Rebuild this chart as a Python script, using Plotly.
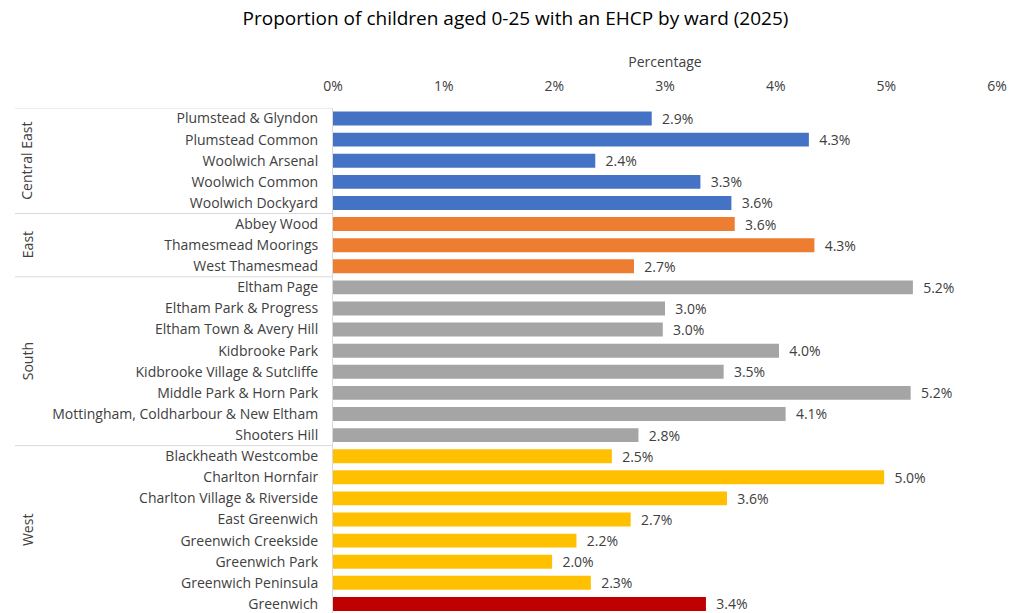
import plotly.graph_objects as go

wards = [
    "Plumstead & Glyndon", "Plumstead Common", "Woolwich Arsenal", "Woolwich Common", "Woolwich Dockyard",
    "Abbey Wood", "Thamesmead Moorings", "West Thamesmead",
    "Eltham Page", "Eltham Park & Progress", "Eltham Town & Avery Hill", "Kidbrooke Park",
    "Kidbrooke Village & Sutcliffe", "Middle Park & Horn Park", "Mottingham, Coldharbour & New Eltham", "Shooters Hill",
    "Blackheath Westcombe", "Charlton Hornfair", "Charlton Village & Riverside", "East Greenwich",
    "Greenwich Creekside", "Greenwich Park", "Greenwich Peninsula", "Greenwich",
]
values = [
    2.88, 4.30, 2.37, 3.32, 3.60,
    3.63, 4.35, 2.72,
    5.24, 3.00, 2.98, 4.03, 3.53, 5.22, 4.09, 2.76,
    2.52, 4.98, 3.56, 2.69, 2.20, 1.98, 2.33, 3.37,
]
groups = (["Central East"] * 5 + ["East"] * 3 + ["South"] * 8 + ["West"] * 7 + ["Greenwich"])
group_names = ["Central East", "East", "South", "West"]
group_colors = {"Central East": "#4472C4", "East": "#ED7D31", "South": "#A5A5A5",
                "West": "#FFC000", "Greenwich": "#C00000"}
x_ticks = [0, 1, 2, 3, 4, 5, 6]

FONT = "Open Sans"
TXT = "#404040"

fig = go.Figure(go.Bar(
    x=values, y=wards, orientation="h",
    marker=dict(color=[group_colors[g] for g in groups], line=dict(width=0)),
    width=0.66,
    text=[f"\u00a0\u00a0{v:.1f}%" for v in values],
    textposition="outside", cliponaxis=False, constraintext="none",
    textfont=dict(family=FONT, size=14, color=TXT),
))

W, H = 1031, 613
L, R, T = 333, 34, 107.5
fig.update_layout(
    width=W, height=H,
    margin=dict(l=L, r=R, t=T, b=0, autoexpand=False),
    paper_bgcolor="white", plot_bgcolor="white",
    showlegend=False,
    title=dict(text="Proportion of children aged 0-25 with an EHCP by ward (2025)",
               x=0.5, xref="container", xanchor="center", y=1 - 18 / H, yanchor="middle",
               font=dict(family=FONT, size=19, color="#000000")),
    font=dict(family=FONT, color=TXT, size=14),
)
fig.update_xaxes(
    side="top", range=[0, 6], tickvals=x_ticks, ticktext=[f"{t}%" for t in x_ticks],
    showgrid=False, zeroline=False, showline=False, ticks="", automargin=False,
    ticklabelstandoff=13,
    tickfont=dict(family=FONT, size=14, color=TXT),
    title=dict(text="Percentage", font=dict(family=FONT, size=14, color=TXT), standoff=5),
)
n = len(wards)
fig.update_yaxes(
    categoryorder="array", categoryarray=wards,
    range=[n - 0.57, -0.5],
    showgrid=False, zeroline=False, showline=True, linecolor="#D9D9D9", linewidth=1,
    ticks="", ticklabelstandoff=11, automargin=False,
    tickfont=dict(family=FONT, size=14, color=TXT),
)

# group separators and labels
pw = W - L - R
x_left = (15 - L) / pw
idx = 0
spans = []
for g in group_names:
    cnt = sum(1 for gg in groups if gg == g)
    if g == "West":
        cnt += 1  # Greenwich total sits in the last block
    spans.append((g, idx, idx + cnt - 1))
    idx += cnt
seps = [-0.5] + [b + 0.5 for g, a, b in spans[:-1]]
for s in seps:
    fig.add_shape(type="line", xref="paper", yref="y", x0=x_left, x1=0, y0=s, y1=s,
                  line=dict(color="#D9D9D9", width=1))
for g, a, b in spans:
    fig.add_annotation(text=g, xref="paper", yref="y", x=(27 - L) / pw, y=(a + b) / 2,
                       textangle=-90, showarrow=False, xanchor="center", yanchor="middle",
                       font=dict(family=FONT, size=14, color=TXT))

fig.write_html("out.html", config={"displayModeBar": False},
               post_script="document.body.style.margin='0';document.body.style.overflow='hidden';")
